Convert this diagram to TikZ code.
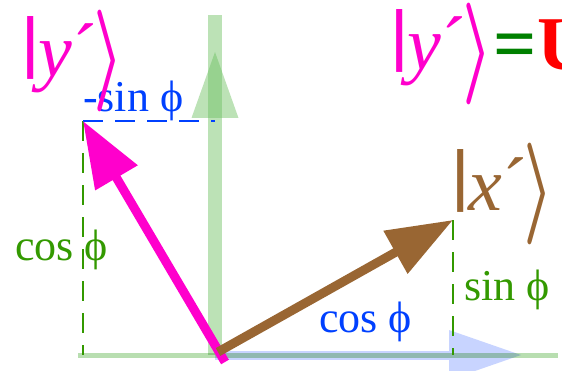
\RequirePackage{fix-cm}
\documentclass[tikz,border=0pt]{standalone}
\usepackage{fontspec}
\setmainfont{Liberation Serif}
\usetikzlibrary{arrows.meta, positioning}
\definecolor{kPink}{HTML}{FF00CC}
\definecolor{kBrown}{HTML}{996633}
\definecolor{kBlue}{HTML}{0040FF}
\definecolor{kGreen}{HTML}{339900}
\definecolor{eqGreen}{HTML}{008000}
\definecolor{axGreen}{HTML}{6ABF5E}
\definecolor{lineGreen}{HTML}{B8DEB0}
\definecolor{axBlue}{HTML}{C8D4FF}
\newcommand{\ketof}[1]{\raisebox{0.16em}{\scalebox{1.6}[0.91]{|}}\kern-0.05em{\itshape #1}´%
  \kern-0.05em\raisebox{-0.13em}{\scalebox{0.9}[1.34]{\boldmath$\rangle$}}}

\begin{document}
\begin{tikzpicture}[x=1pt, y=1pt,
    axis/.style={axGreen, opacity=0.45},
    vec/.style={line width=9pt, -{Triangle[length=66pt, width=47pt]}},
    proj/.style={line width=1.2pt, dash pattern=on 20pt off 12pt},
    lbl/.style={font=\fontsize{44}{44}\selectfont, inner sep=0pt, anchor=base west},
    ketlbl/.style={font=\fontsize{76}{76}\selectfont, inner sep=0pt, anchor=base west}]
  \clip (0,0) rectangle (562,370);
  % axes
  \coordinate (O) at (215,15);
  \coordinate (ytop) at (215,355);
  \coordinate (ytip) at (215,318);
  \coordinate (ybase) at (215,252);
  \coordinate (xl) at (78,15);
  \coordinate (xr) at (558,15);
  \coordinate (xtip) at (521,15);
  \coordinate (xbase) at (449,15);
  \draw[axis, line width=14pt] (O) -- (ytop);
  \fill[axis] (ytip) -- ([xshift=-23.5pt]ybase) -- ([xshift=23.5pt]ybase) -- cycle;
  \draw[axBlue, line width=9pt] (O) -- (xbase);
  \fill[axBlue] (xtip) -- ([yshift=25pt]xbase) -- ([yshift=-25pt]xbase) -- cycle;
  \begin{scope}[blend mode=multiply]
    \draw[lineGreen, line width=5pt] (xl) -- (xr);
  \end{scope}
  % rotated basis
  \coordinate (ps) at (225,8);
  \coordinate (yp) at (83,249);
  \coordinate (bs) at (218,18);
  \coordinate (xp) at (453,150);
  \draw[proj, kGreen] (yp) -- (yp |- O);
  \draw[proj, kBlue] (yp) -- (yp -| O);
  \draw[proj, kGreen] (xp) -- (xp |- O);
  \draw[vec, kPink] (ps) -- (yp);
  \draw[vec, kBrown] (bs) -- (xp);
  % labels
  \node[lbl, kBlue] (msin) at (83,258) {-sin ϕ};
  \node[lbl, kGreen] (lcos) at (15,110) {cos ϕ};
  \node[lbl, kBlue] (bcos) at (319,38) {cos ϕ};
  \node[lbl, kGreen] (rsin) at (464,70) {sin ϕ};
  \node[ketlbl, kPink] (kety) at (18,293) {\ketof{y}};
  \node[ketlbl, kBrown] (ketx) at (448,160) {\ketof{x}};
  \node[ketlbl, kPink] (ketyr) at (387,300) {\ketof{y}};
  \node[ketlbl, right=0pt of ketyr.base east, anchor=base west] (equ)
    {\bfseries\textcolor{eqGreen}{=}\textcolor{red}{U}};
\end{tikzpicture}
\end{document}
